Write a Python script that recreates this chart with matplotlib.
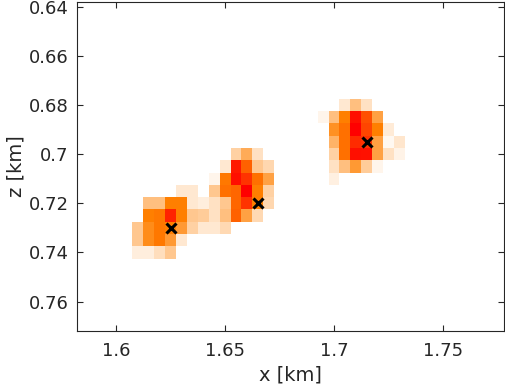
import numpy as np
import matplotlib
matplotlib.use("Agg")
import matplotlib.pyplot as plt
from matplotlib.colors import LinearSegmentedColormap

# grid of cell centres (km)
x_centers = np.round(np.arange(1.610, 1.7301, 0.005), 3)
z_centers = np.round(np.arange(0.680, 0.7401, 0.005), 3)

# cell values, one row per z centre, one column per x centre
cells = np.array([
    # 1.610 ...                                                                              ... 1.730
    [0, 0, 0, 0, 0, 0, 0, 0, 0, 0, 0, 0, 0, 0, 0, 0, 0, 0, 0, .09, .25, .12, 0, 0, 0],
    [0, 0, 0, 0, 0, 0, 0, 0, 0, 0, 0, 0, 0, 0, 0, 0, 0, .04, .25, .50, .94, .69, .37, 0, 0],
    [0, 0, 0, 0, 0, 0, 0, 0, 0, 0, 0, 0, 0, 0, 0, 0, 0, 0, .43, .56, 1.0, .73, .50, .08, 0],
    [0, 0, 0, 0, 0, 0, 0, 0, 0, 0, 0, 0, 0, 0, 0, 0, 0, 0, .30, .56, .83, .80, .37, .03, .10],
    [0, 0, 0, 0, 0, 0, 0, 0, 0, .18, .33, .12, 0, 0, 0, 0, 0, 0, .18, .56, .94, .93, .37, .12, .05],
    [0, 0, 0, 0, 0, 0, 0, 0, .09, .90, .62, .22, .16, 0, 0, 0, 0, 0, .12, .25, .40, .20, .04, 0, 0],
    [0, 0, 0, 0, 0, 0, 0, .04, .53, .94, .80, .56, .37, 0, 0, 0, 0, 0, .06, 0, 0, 0, 0, 0, 0],
    [0, 0, 0, 0, .09, .09, 0, .22, .56, .60, 1.0, .50, .18, 0, 0, 0, 0, 0, 0, 0, 0, 0, 0, 0, 0],
    [0, .25, .25, .50, .50, .09, .07, .12, .22, .60, .80, .50, .16, 0, 0, 0, 0, 0, 0, 0, 0, 0, 0, 0, 0],
    [0, .50, .53, .86, .50, .22, .20, .12, .25, .62, .37, .15, 0, 0, 0, 0, 0, 0, 0, 0, 0, 0, 0, 0, 0],
    [.22, .45, .53, .50, .40, .18, .09, .09, .15, 0, 0, 0, 0, 0, 0, 0, 0, 0, 0, 0, 0, 0, 0, 0, 0],
    [.22, .45, .53, .40, .09, 0, 0, 0, 0, 0, 0, 0, 0, 0, 0, 0, 0, 0, 0, 0, 0, 0, 0, 0, 0],
    [.07, .07, .13, .22, 0, 0, 0, 0, 0, 0, 0, 0, 0, 0, 0, 0, 0, 0, 0, 0, 0, 0, 0, 0, 0],
])

# source positions (black crosses)
src_x = [1.625, 1.665, 1.715]
src_z = [0.730, 0.720, 0.695]

cmap = LinearSegmentedColormap.from_list(
    "wor", [(1, 1, 1), (1, 0.5, 0), (1, 0, 0)])

ink = "#262626"
plt.rcParams["font.family"] = "DejaVu Sans"

fig = plt.figure(figsize=(5.06, 3.91), dpi=100)
ax = fig.add_axes([0.152, 0.1535, 0.844, 0.8415])

ax.pcolormesh(x_centers, z_centers, cells, cmap=cmap, vmin=0, vmax=1,
              shading="nearest")
ax.plot(src_x, src_z, "x", color="k", markersize=7.5, mew=2.2)

ax.set_xlim(1.582, 1.778)
ax.set_ylim(0.772, 0.638)
ax.set_xticks([1.6, 1.65, 1.7, 1.75])
ax.set_xticklabels(["1.6", "1.65", "1.7", "1.75"])
ax.set_yticks([0.64, 0.66, 0.68, 0.70, 0.72, 0.74, 0.76])
ax.set_yticklabels(["0.64", "0.66", "0.68", "0.7", "0.72", "0.74", "0.76"])

ax.tick_params(direction="in", top=True, right=True, length=4,
               width=0.8, colors=ink, labelsize=13)
ax.tick_params(axis="x", pad=8)
ax.tick_params(axis="y", pad=6)
for s in ax.spines.values():
    s.set_color(ink)
    s.set_linewidth(0.8)

ax.set_xlabel("x [km]", fontsize=14, color=ink, labelpad=4)
ax.set_ylabel("z [km]", fontsize=14, color=ink, labelpad=2)

fig.savefig("out.png", dpi=100)
